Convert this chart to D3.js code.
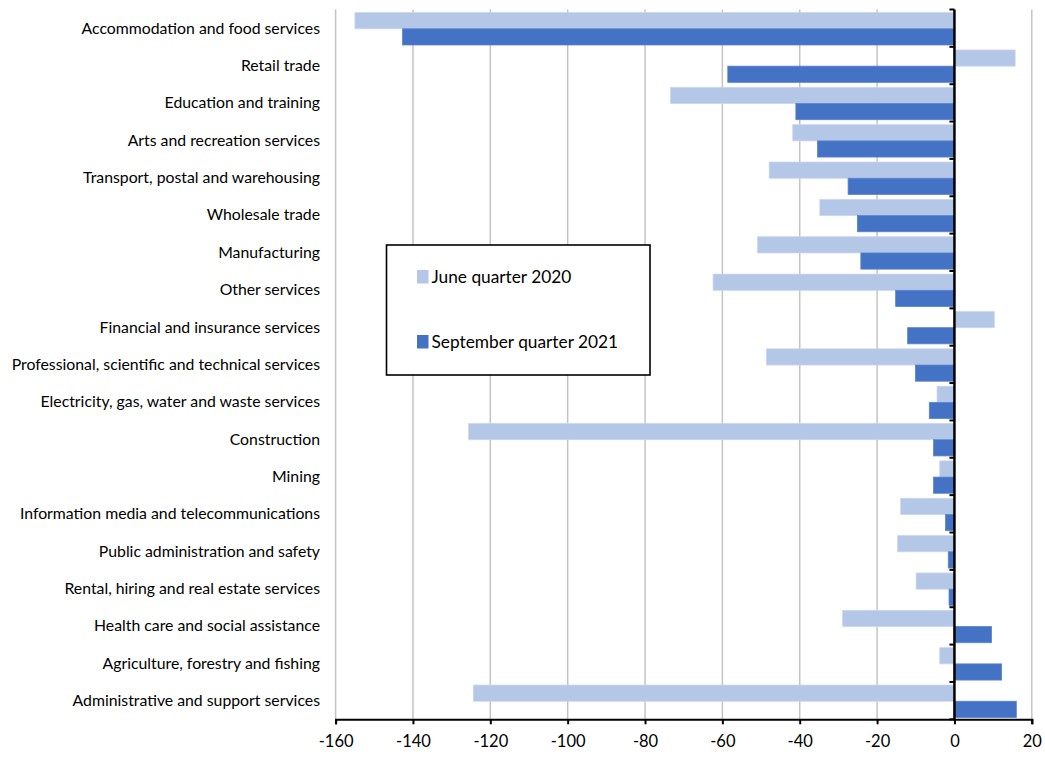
<!DOCTYPE html>
<html>
<head>
<meta charset="utf-8">
<script src="https://cdn.jsdelivr.net/npm/d3@7"></script>
<style>
  html, body { margin: 0; padding: 0; background: #fff; }
  svg { display: block; }
  text { font-family: Lato, "Open Sans", sans-serif; fill: #000; }
</style>
</head>
<body>
<svg id="chart" width="1045" height="758"></svg>
<script>
const categories = [
  "Accommodation and food services",
  "Retail trade",
  "Education and training",
  "Arts and recreation services",
  "Transport, postal and warehousing",
  "Wholesale trade",
  "Manufacturing",
  "Other services",
  "Financial and insurance services",
  "Professional, scientific and technical services",
  "Electricity, gas, water and waste services",
  "Construction",
  "Mining",
  "Information media and telecommunications",
  "Public administration and safety",
  "Rental, hiring and real estate services",
  "Health care and social assistance",
  "Agriculture, forestry and fishing",
  "Administrative and support services"
];
const june2020 = [-155.0, 15.7, -73.4, -41.8, -47.9, -34.8, -50.9, -62.4, 10.3, -48.6, -4.5, -125.6, -3.8, -13.9, -14.7, -9.9, -28.9, -3.8, -124.4];
const sept2021 = [-142.7, -58.6, -41.0, -35.4, -27.5, -25.1, -24.2, -15.2, -12.1, -10.1, -6.5, -5.4, -5.4, -2.3, -1.6, -1.4, 9.6, 12.2, 16.0];
const seriesNames = ["June quarter 2020", "September quarter 2021"];
const seriesColors = ["#b4c7e7", "#4472c4"];
const xTicks = [-160, -140, -120, -100, -80, -60, -40, -20, 0, 20];

const svg = d3.select("#chart");
const plot = { left: 335.6, right: 1031.8, top: 9.5, bottom: 719.3 };

const x = d3.scaleLinear().domain([-160, 20]).range([plot.left, plot.right]);
const y = d3.scaleBand().domain(categories).range([plot.top, plot.bottom]).paddingInner(0).paddingOuter(0);
const step = y.step();
const ySub = d3.scaleBand().domain([0, 1]).range([step * 0.083, step * 0.95]).paddingInner(0).paddingOuter(0);

// gridlines
svg.append("g")
  .selectAll("line")
  .data(xTicks.filter(d => d !== 0))
  .join("line")
  .attr("x1", d => x(d)).attr("x2", d => x(d))
  .attr("y1", plot.top).attr("y2", plot.bottom)
  .attr("stroke", "#c4c4c4").attr("stroke-width", 1.5);

// bars
const series = [june2020, sept2021];
series.forEach((vals, s) => {
  svg.append("g")
    .selectAll("rect")
    .data(vals.map((v, i) => ({ c: categories[i], v })))
    .join("rect")
    .attr("x", d => x(Math.min(0, d.v)))
    .attr("width", d => Math.abs(x(d.v) - x(0)))
    .attr("y", d => y(d.c) + ySub(s))
    .attr("height", ySub.bandwidth())
    .attr("fill", seriesColors[s])
    .attr("stroke", s === 0 ? "#c8d6ee" : "#5a83cc")
    .attr("stroke-width", 0.8);
});

// x axis
const xAxis = d3.axisBottom(x).tickValues(xTicks).tickSize(5).tickPadding(11).tickFormat(d => String(d));
const gx = svg.append("g").attr("transform", `translate(0,${plot.bottom})`).call(xAxis);
gx.select(".domain").attr("stroke", "#000").attr("stroke-width", 2);
gx.selectAll(".tick line").attr("stroke", "#000").attr("stroke-width", 2);
gx.selectAll(".tick text").attr("font-size", 16.5).attr("font-family", "Lato, sans-serif");

// y axis at zero
const boundaries = d3.range(categories.length + 1).map(i => plot.top + i * step);
const gy = svg.append("g");
gy.append("line")
  .attr("x1", x(0)).attr("x2", x(0))
  .attr("y1", plot.top).attr("y2", plot.bottom)
  .attr("stroke", "#000").attr("stroke-width", 2.5);
gy.selectAll("line.tk")
  .data(boundaries)
  .join("line")
  .attr("class", "tk")
  .attr("x1", x(0) - 5).attr("x2", x(0))
  .attr("y1", d => d).attr("y2", d => d)
  .attr("stroke", "#000").attr("stroke-width", 2);

// category labels
svg.append("g")
  .selectAll("text")
  .data(categories)
  .join("text")
  .attr("x", 320)
  .attr("y", d => y(d) + step / 2)
  .attr("dy", "0.35em")
  .attr("text-anchor", "end")
  .attr("font-size", 15.8)
  .text(d => d);

// legend
const lg = svg.append("g");
lg.append("rect")
  .attr("x", 386.5).attr("y", 245).attr("width", 263.5).attr("height", 130)
  .attr("fill", "#fff").attr("stroke", "#000").attr("stroke-width", 1.6);
const legY = [277, 342];
seriesNames.forEach((name, s) => {
  lg.append("rect")
    .attr("x", 417).attr("y", legY[s] - 7).attr("width", 11.5).attr("height", 13.5)
    .attr("fill", seriesColors[s]);
  lg.append("text")
    .attr("x", 431.5).attr("y", legY[s])
    .attr("dy", "0.35em")
    .attr("font-size", 17.3)
    .text(name);
});
</script>
</body>
</html>
